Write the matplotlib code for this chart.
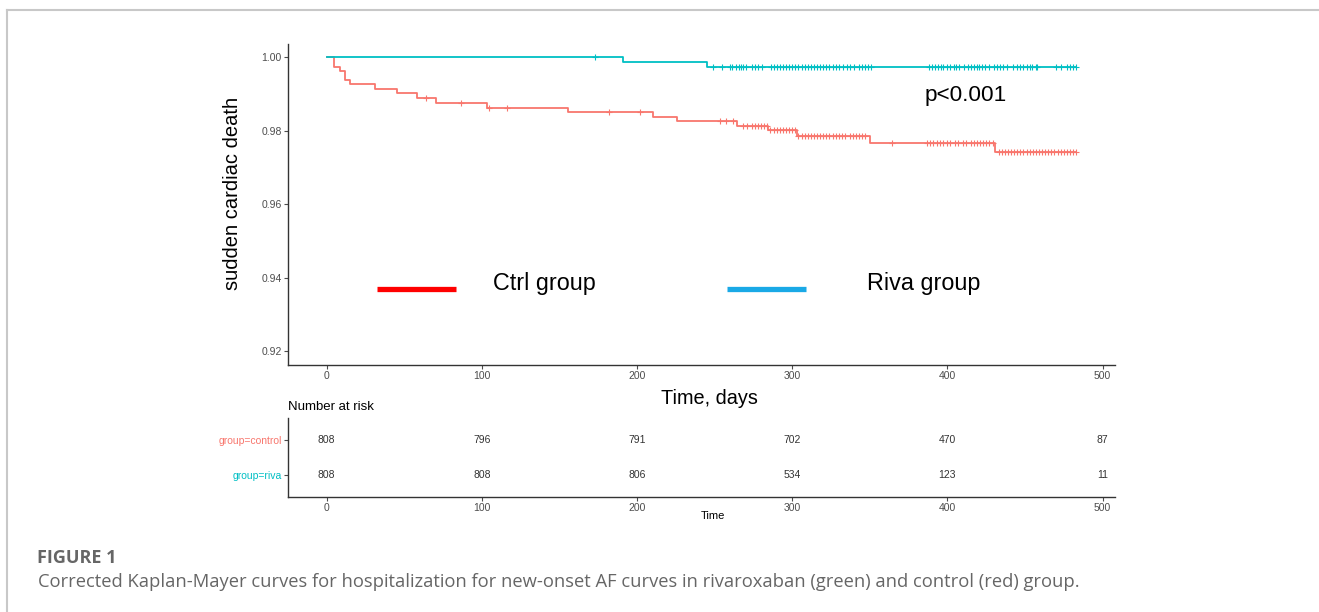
import matplotlib
matplotlib.use("Agg")
import matplotlib.pyplot as plt
from matplotlib.lines import Line2D

plt.rcParams['font.family'] = ['Liberation Sans', 'DejaVu Sans']

# Kaplan-Meier step data (days, survival)
ctrl_t = [0, 4.9, 8.6, 11.8, 15.3, 31, 45.6, 58.5, 70.7, 103.6, 155.7, 210.5,
          225.6, 264.7, 284.7, 303, 349.9, 431, 483]
ctrl_s = [1.0, 0.99745, 0.99618, 0.99382, 0.99264, 0.99127, 0.99018, 0.98882,
          0.98764, 0.98627, 0.98518, 0.98382, 0.98264, 0.98136, 0.98019,
          0.97856, 0.97673, 0.97428, 0.97428]
riva_t = [0, 191, 244.8, 483]
riva_s = [1.0, 0.99864, 0.99744, 0.99744]

# censoring marks
ctrl_cens = [64.3, 86.5, 104.7, 115.9, 181.9, 201.9, 253.5, 257.4, 262.1,
             268.6, 271, 274, 276, 278, 280, 282, 283.7, 286, 288, 290, 292,
             294, 296, 298, 300, 301.9, 304, 306, 308, 310, 312, 314, 316, 318,
             320, 322, 324, 326, 328, 330, 332, 334, 337, 339, 341, 343, 345,
             347, 364, 387, 389, 391, 393, 395, 397, 400, 402, 405, 407, 410,
             412, 415, 417, 419, 421, 423, 425, 427, 429.5, 433, 435, 437, 439,
             441, 443, 445, 447, 449, 451, 453, 455, 457, 459, 461, 463, 465,
             467, 469, 471, 473, 475, 477, 479, 481, 483]
riva_cens = [172.9, 248.8, 254.6, 260, 261.5, 264, 265.5, 267, 268.5, 270.5,
             274, 276, 278, 280.5, 286.5, 288, 290, 292, 294, 296, 298, 300,
             302, 304, 306, 308, 310, 312, 314, 316, 318, 320, 322, 324, 326,
             328, 330, 333, 335.5, 337.5, 339.5, 343, 345, 347, 349, 350.5,
             388, 390, 392, 394, 396, 397.5, 399.5, 401.5, 404, 405.5, 407.5,
             410.5, 413, 415, 417, 419, 420.5, 422.5, 424.5, 427, 430, 432,
             434, 436, 438.5, 442, 445, 447, 449, 451, 453, 454.5, 457, 458,
             470, 473, 477, 479, 481, 482.6]

# number at risk table
risk_times = [0, 100, 200, 300, 400, 500]
risk_ctrl = [808, 796, 791, 702, 470, 87]
risk_riva = [808, 808, 806, 534, 123, 11]
groups = ['group=riva', 'group=control']

c_ctrl = '#F8766D'
c_riva = '#00BFC4'


def surv_at(ts, ss, t):
    v = ss[0]
    for ti, si in zip(ts, ss):
        if ti <= t:
            v = si
    return v


fig = plt.figure(figsize=(13.19, 6.12), dpi=100)

# frame around the figure panel
fig.add_artist(Line2D([7 / 1319, 7 / 1319], [0, 1 - 10 / 612], color='#c8c8c8', lw=1.5))
fig.add_artist(Line2D([7 / 1319, 1], [1 - 10 / 612, 1 - 10 / 612], color='#c8c8c8', lw=1.5))

ax = fig.add_axes([0.2183, 0.4036, 0.627, 0.5253])
ax.step(ctrl_t, ctrl_s, where='post', color=c_ctrl, lw=1.3)
ax.step(riva_t, riva_s, where='post', color=c_riva, lw=1.3)
ax.plot(ctrl_cens, [surv_at(ctrl_t, ctrl_s, t) for t in ctrl_cens], '+',
        color=c_ctrl, ms=5, mew=0.8)
ax.plot(riva_cens, [surv_at(riva_t, riva_s, t) for t in riva_cens], '+',
        color=c_riva, ms=5, mew=0.8)

ax.set_xlim(-25, 508)
ax.set_ylim(0.9162, 1.0038)
ax.set_xticks(risk_times)
ax.set_yticks([0.92, 0.94, 0.96, 0.98, 1.00])
ax.set_yticklabels(['0.92', '0.94', '0.96', '0.98', '1.00'])
for s in ['top', 'right']:
    ax.spines[s].set_visible(False)
for s in ['left', 'bottom']:
    ax.spines[s].set_color('#333333')
    ax.spines[s].set_linewidth(1.0)
ax.tick_params(labelsize=7.5, colors='#4d4d4d', length=3, width=0.8)
ax.tick_params(axis='y', pad=1.5)
ax.tick_params(axis='x', pad=1.5)
ax.set_ylabel('sudden cardiac death', fontsize=14.5, va='center')
ax.yaxis.set_label_coords(-0.0665, 0.534)
ax.set_xlabel('Time, days', fontsize=14.3, va='center')
ax.xaxis.set_label_coords(0.510, -0.1028)

# hand-made legend
ax.plot([32.3, 83.2], [0.93687, 0.93687], lw=3.8, color='#ff0000',
        solid_capstyle='butt')
ax.text(107, 0.9385, 'Ctrl group', fontsize=16.8, ha='left', va='center')
ax.plot([258, 309], [0.93687, 0.93687], lw=3.8, color='#1aa9e6',
        solid_capstyle='butt')
ax.text(348, 0.9385, 'Riva group', fontsize=16.8, ha='left', va='center')
ax.text(385, 0.9895, 'p<0.001', fontsize=16.2, ha='left', va='center')

# risk table
tb = fig.add_axes([0.2183, 0.1879, 0.627, 0.1291])
for t, n in zip(risk_times, risk_ctrl):
    tb.text(t, 2, str(n), ha='center', va='center', fontsize=7.5, color='#333333')
for t, n in zip(risk_times, risk_riva):
    tb.text(t, 1, str(n), ha='center', va='center', fontsize=7.5, color='#333333')
tb.set_xlim(-25, 508)
tb.set_ylim(0.371, 2.629)
tb.set_xticks(risk_times)
tb.set_yticks([1, 2])
tb.set_yticklabels(groups)
for s in ['top', 'right']:
    tb.spines[s].set_visible(False)
for s in ['left', 'bottom']:
    tb.spines[s].set_color('#333333')
    tb.spines[s].set_linewidth(1.0)
tb.tick_params(labelsize=7.5, colors='#4d4d4d', length=3, width=0.8, pad=1.5)
for lab, c in zip(tb.get_yticklabels(), [c_riva, c_ctrl]):
    lab.set_color(c)
tb.set_xlabel('Time', fontsize=8, va='center')
tb.xaxis.set_label_coords(0.5145, -0.24)
tb.set_title('Number at risk', fontsize=9.5, loc='left', pad=6, x=0.0)

# caption
fig.text(37 / 1319, 1 - 558 / 612, 'FIGURE 1', fontsize=13, fontweight='bold',
         color='#666666', family='Open Sans', va='center')
fig.text(38 / 1319, 1 - 582 / 612,
         'Corrected Kaplan-Mayer curves for hospitalization for new-onset AF curves '
         'in rivaroxaban (green) and control (red) group.',
         fontsize=13.2, color='#666666', family='Open Sans', va='center')

fig.savefig('out.png', dpi=100)
